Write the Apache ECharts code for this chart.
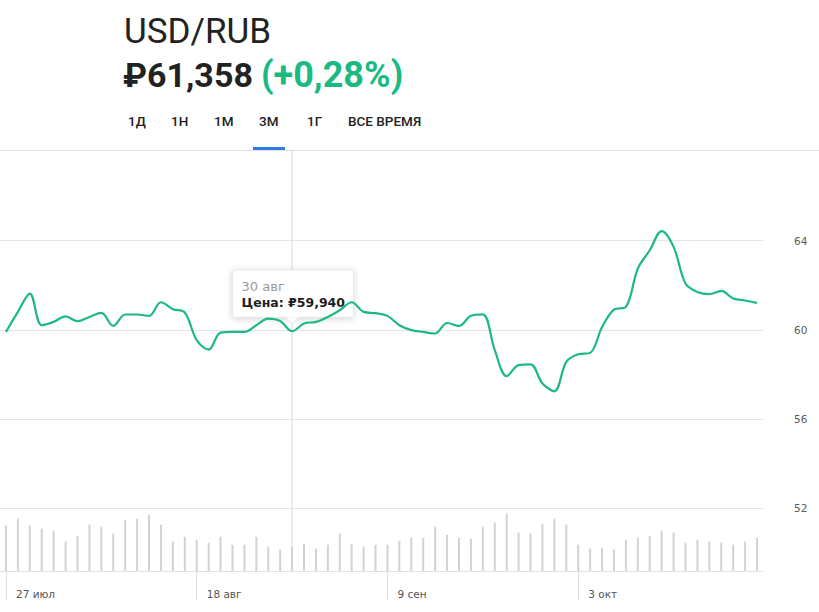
<!DOCTYPE html>
<html>
<head>
<meta charset="utf-8">
<script src="https://cdn.jsdelivr.net/npm/echarts@6/dist/echarts.min.js"></script>
<style>
  html, body { margin: 0; padding: 0; background: #ffffff; }
  #chart { width: 819px; height: 612px; }
</style>
</head>
<body>
<div id="chart"></div>
<script>
// ---- data ----
const dates = [
  '27 июл','28 июл','29 июл','30 июл','31 июл','3 авг','4 авг','5 авг','6 авг','7 авг',
  '10 авг','11 авг','12 авг','13 авг','14 авг','17 авг','18 авг','19 авг','20 авг','21 авг',
  '24 авг','25 авг','26 авг','28 авг','30 авг','31 авг','1 сен','2 сен','3 сен','4 сен',
  '7 сен','8 сен','9 сен','10 сен','11 сен','14 сен','15 сен','16 сен','17 сен','18 сен',
  '21 сен','22 сен','23 сен','24 сен','25 сен','28 сен','30 сен','1 окт','3 окт','5 окт',
  '6 окт','7 окт','8 окт','9 окт','12 окт','13 окт','14 окт','15 окт','16 окт','19 окт',
  '20 окт','21 окт','22 окт','23 окт'
];
const price = [
  59.91, 60.81, 61.63, 60.21, 60.36, 60.61, 60.39, 60.58, 60.76, 60.18,
  60.69, 60.69, 60.63, 61.24, 60.93, 60.78, 59.54, 59.12, 59.88, 59.91,
  59.91, 60.21, 60.51, 60.40, 59.94, 60.29, 60.36, 60.58, 60.88, 61.24,
  60.81, 60.75, 60.63, 60.21, 59.99, 59.91, 59.84, 60.31, 60.18, 60.63,
  60.70, 59.09, 57.93, 58.42, 58.46, 57.60, 57.25, 58.57, 58.91, 58.97,
  60.13, 60.91, 61.03, 62.75, 63.57, 64.43, 63.72, 62.08, 61.70, 61.60,
  61.75, 61.41, 61.32, 61.21
];
const volume = [
  45.3, 52.3, 45.3, 42.3, 40.3, 29.3, 35.3, 46.3, 44.3, 37.3,
  51.3, 52.3, 56.3, 46.3, 29.3, 34.3, 31.3, 28.3, 34.3, 26.3,
  26.3, 34.3, 24.3, 21.3, 24.3, 27.3, 22.3, 26.3, 37.3, 27.3,
  24.3, 26.3, 26.3, 30.3, 33.3, 33.3, 44.3, 36.3, 33.3, 32.3,
  44.3, 48.3, 57.3, 38.3, 37.3, 47.3, 52.3, 46.3, 26.3, 22.3,
  23.3, 21.3, 31.3, 33.3, 35.3, 40.3, 38.3, 28.3, 31.3, 29.3,
  28.3, 26.3, 29.3, 33.3
];
const priceTicks = [48, 52, 56, 60, 64, 68];
const labeledIdx = [0, 16, 32, 48];
const tooltipIdx = 24;
const pair = 'USD/RUB';
const lastPrice = '₽61,358';
const change = '(+0,28%)';
const tabs = ['1Д', '1Н', '1М', '3М', '1Г', 'ВСЕ ВРЕМЯ'];
const tabX = [128, 171, 214, 259, 307, 348];

// ---- chart ----
const GREEN = '#1db985';
const chart = echarts.init(document.getElementById('chart'), null, { renderer: 'svg' });

const gridL = -1.3, gridR = 56;

const option = {
  animation: false,
  backgroundColor: '#ffffff',
  grid: [
    { left: gridL, right: gridR, top: 151.4, bottom: 14.3 },
    { left: gridL, right: gridR, top: 150, bottom: 41 }
  ],
  xAxis: [
    {
      type: 'category', gridIndex: 0, data: dates, boundaryGap: true,
      show: false
    },
    {
      type: 'category', gridIndex: 1, data: dates, boundaryGap: true,
      axisLine: { show: true, lineStyle: { color: '#e2e2e2', width: 1 } },
      axisTick: {
        show: true, alignWithLabel: true, length: 29,
        interval: (i) => labeledIdx.includes(i),
        lineStyle: { color: '#dedede', width: 1 }
      },
      axisLabel: {
        interval: (i) => labeledIdx.includes(i),
        align: 'left', verticalAlign: 'middle', margin: 23,
        padding: [0, 0, 0, 10],
        color: '#555', fontSize: 10.5, fontFamily: 'DejaVu Sans'
      },
      splitLine: { show: false }
    }
  ],
  yAxis: [
    {
      type: 'value', gridIndex: 0, position: 'right',
      min: priceTicks[0], max: priceTicks[priceTicks.length - 1], interval: 4,
      axisLine: { show: false }, axisTick: { show: false },
      axisLabel: {
        showMinLabel: false, showMaxLabel: false,
        margin: 31, align: 'left',
        color: '#5a5a5a', fontSize: 10.5, fontFamily: 'DejaVu Sans'
      },
      splitLine: {
        show: true, showMinLine: false, showMaxLine: false,
        lineStyle: { color: '#e4e4e4', width: 1 }
      }
    },
    {
      type: 'value', gridIndex: 1, min: 0, max: 421, show: false,
      splitLine: { show: false }
    }
  ],
  series: [
    {
      type: 'bar', xAxisIndex: 1, yAxisIndex: 1, data: volume,
      barWidth: 2, itemStyle: { color: '#d2d2d2' }, silent: true, z: 1
    },
    {
      type: 'line', xAxisIndex: 0, yAxisIndex: 0, data: price,
      smooth: 0.35, symbol: 'none',
      lineStyle: { color: GREEN, width: 2.2 }, z: 3
    }
  ]
};
chart.setOption(option);

const pt = chart.convertToPixel({ xAxisIndex: 0, yAxisIndex: 0 }, [tooltipIdx, price[tooltipIdx]]);
const px = pt[0], py = pt[1];
const axisBottom = chart.convertToPixel({ xAxisIndex: 1, yAxisIndex: 1 }, [tooltipIdx, 0])[1];

const fmtPrice = '₽' + price[tooltipIdx].toFixed(3).replace('.', ',');

const graphics = [
  // header
  { type: 'text', x: 124, y: 31, style: { text: pair, font: '400 35px Roboto', fill: '#222', verticalAlign: 'middle' } },
  { type: 'text', x: 123, y: 74.5, style: { text: lastPrice, font: 'bold 34px Roboto', fill: '#222', verticalAlign: 'middle' } },
  { type: 'text', x: 261, y: 74.5, style: { text: change, font: 'bold 36px Roboto', fill: GREEN, verticalAlign: 'middle' } },
  // top border and active tab
  { type: 'line', shape: { x1: 0, y1: 150.5, x2: 819, y2: 150.5 }, style: { stroke: '#e0e0e0', lineWidth: 1 }, z: 5 },
  { type: 'rect', shape: { x: 253, y: 147, width: 32, height: 3 }, style: { fill: '#2d7be5' }, z: 6 },
  // crosshair
  { type: 'line', shape: { x1: px, y1: 150, x2: px, y2: axisBottom }, style: { stroke: '#d8d8d8', lineWidth: 1 }, z: 0 },
  // tooltip
  {
    type: 'group', z: 20,
    children: [
      { type: 'rect', shape: { x: px - 59.5, y: py - 61.3, width: 121, height: 47.3, r: 2 },
        style: { fill: '#ffffff', stroke: '#e6e6e6', lineWidth: 1, shadowBlur: 6, shadowColor: 'rgba(0,0,0,0.18)', shadowOffsetY: 1 } },
      { type: 'polygon', shape: { points: [[px - 7, py - 14.5], [px + 7, py - 14.5], [px, py - 7.5]] },
        style: { fill: '#ffffff', stroke: '#e6e6e6', lineWidth: 1 } },
      { type: 'rect', shape: { x: px - 7.5, y: py - 16, width: 15, height: 1.6 }, style: { fill: '#ffffff' } },
      { type: 'text', x: px - 50.5, y: py - 45, style: { text: dates[tooltipIdx], font: '13px "DejaVu Sans"', fill: '#9a9a9a', verticalAlign: 'middle' } },
      { type: 'text', x: px - 50.5, y: py - 28.5, style: { text: 'Цена: ' + fmtPrice, font: 'bold 12.5px "DejaVu Sans"', fill: '#1e1e1e', verticalAlign: 'middle' } }
    ]
  }
];
tabs.forEach((t, i) => {
  graphics.push({ type: 'text', x: tabX[i], y: 121, style: { text: t, font: '500 13.5px Roboto', fill: '#222', verticalAlign: 'middle' } });
});
chart.setOption({ graphic: graphics });
</script>
</body>
</html>
